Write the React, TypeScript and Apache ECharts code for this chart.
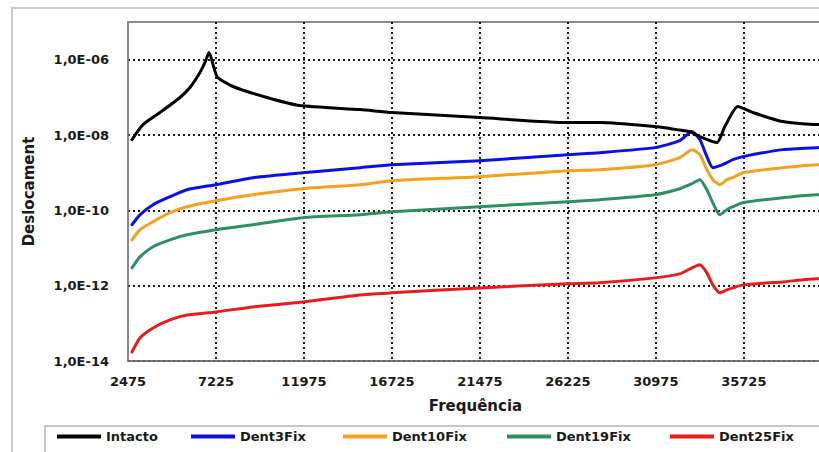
import React, { useEffect, useRef } from "react";
import * as echarts from "echarts";

const seriesNames = ["Intacto", "Dent3Fix", "Dent10Fix", "Dent19Fix", "Dent25Fix"];
const seriesColors = ["#000000", "#0a10e6", "#f5a01e", "#2e8f63", "#e81c1c"];

const xTicks = [2475, 7225, 11975, 16725, 21475, 26225, 30975, 35725];
const yTickExponents = [-14, -12, -10, -8, -6];

const freqIntacto = [2690, 3285, 4200, 5280, 5820, 6360, 6630, 6850, 7280, 8140, 9980, 11760, 15000, 16725, 21475, 26225, 27950, 30920, 32110, 32810, 33350, 34270, 34700, 35400, 36210, 37830, 39670, 40000];
const intacto = [7.55e-9, 1.89e-8, 3.95e-8, 9.9e-8, 1.82e-7, 4.57e-7, 8.43e-7, 1.55e-6, 3.57e-7, 1.94e-7, 9.9e-8, 6.05e-8, 4.74e-8, 3.95e-8, 2.9e-8, 2.14e-8, 2.14e-8, 1.67e-8, 1.39e-8, 1.23e-8, 9.05e-9, 6.28e-9, 1.67e-8, 5.69e-8, 3.95e-8, 2.27e-8, 1.89e-8, 1.89e-8];

const freqDent = [2690, 3120, 3825, 4740, 5660, 7225, 9220, 11920, 15000, 16725, 21475, 26225, 27950, 30920, 32270, 32920, 33350, 33730, 34050, 34430, 34810, 35130, 35675, 37830, 39670, 40000];
const dent3 = [4.14e-11, 7.6e-11, 1.41e-10, 2.3e-10, 3.53e-10, 4.8e-10, 7.36e-10, 1.0e-9, 1.36e-9, 1.63e-9, 2.08e-9, 3.01e-9, 3.4e-9, 4.62e-9, 7.1e-9, 1.23e-8, 7.55e-9, 2.67e-9, 1.36e-9, 1.53e-9, 1.85e-9, 2.22e-9, 2.67e-9, 4.09e-9, 4.62e-9, 4.65e-9];
const dent10 = [1.65e-11, 3.05e-11, 4.98e-11, 8.63e-11, 1.25e-10, 1.8e-10, 2.6e-10, 3.75e-10, 4.8e-10, 6.12e-10, 7.83e-10, 1.13e-9, 1.2e-9, 1.63e-9, 2.51e-9, 4.09e-9, 3.01e-9, 1.2e-9, 6.52e-10, 4.8e-10, 6.52e-10, 7.36e-10, 1.0e-9, 1.36e-9, 1.63e-9, 1.63e-9];
const dent19 = [2.97e-12, 5.83e-12, 1.08e-11, 1.65e-11, 2.24e-11, 3.05e-11, 4.14e-11, 6.35e-11, 7.64e-11, 9.18e-11, 1.25e-10, 1.69e-10, 1.91e-10, 2.6e-10, 3.75e-10, 5.09e-10, 6.52e-10, 3.53e-10, 1.59e-10, 7.64e-11, 1.04e-10, 1.25e-10, 1.59e-10, 2.16e-10, 2.6e-10, 2.6e-10];
const dent25 = [1.73e-14, 4.09e-14, 7.55e-14, 1.23e-13, 1.67e-13, 2.01e-13, 2.73e-13, 3.71e-13, 5.69e-13, 6.44e-13, 8.73e-13, 1.12e-12, 1.19e-12, 1.61e-12, 2.06e-12, 2.97e-12, 3.57e-12, 2.19e-12, 1.05e-12, 6.44e-13, 7.73e-13, 8.73e-13, 1.05e-12, 1.26e-12, 1.52e-12, 1.52e-12];

const legendLefts = [57, 191, 343, 507, 670];

const FONT = "DejaVu Sans";

export default function App() {
  const ref = useRef<HTMLDivElement>(null);
  useEffect(() => {
    if (!ref.current) return;
    const chart = echarts.init(ref.current, null, { renderer: "svg" });
    const pair = (xs: number[], ys: number[]) => xs.map((x, i) => [x, ys[i]]);
    const datasets = [
      pair(freqIntacto, intacto),
      pair(freqDent, dent3),
      pair(freqDent, dent10),
      pair(freqDent, dent19),
      pair(freqDent, dent25),
    ];
    const dotted = { color: "#1a1a1a", type: [2, 3] as number[], width: 2 };
    const option: any = {
      animation: false,
      backgroundColor: "#ffffff",
      grid: {
        left: 128,
        top: 22,
        width: 695,
        height: 339,
        show: true,
        borderColor: "#666",
        borderWidth: 1.5,
        containLabel: false,
        outerBoundsMode: "none",
      },
      graphic: [
        {
          type: "rect",
          shape: { x: 12, y: 8, width: 900, height: 500 },
          style: { fill: "none", stroke: "#c8c8c8", lineWidth: 2 },
          silent: true,
          z: -10,
        },
        {
          type: "rect",
          shape: { x: 45, y: 426, width: 900, height: 60 },
          style: { fill: "none", stroke: "#b4b4b4", lineWidth: 1.5 },
          silent: true,
          z: -10,
        },
      ],
      legend: seriesNames.map((n, i) => ({
        data: [n],
        left: legendLefts[i],
        top: 430,
        padding: 0,
        icon: "rect",
        itemWidth: 44,
        itemHeight: 4,
        textStyle: { fontFamily: FONT, fontWeight: "bold", fontSize: 13, color: "#1a1a1a" },
      })),
      xAxis: {
        type: "value",
        min: 2475,
        max: 40000,
        interval: 4750,
        name: "Frequência",
        nameLocation: "middle",
        nameGap: 37,
        nameTextStyle: { fontFamily: FONT, fontWeight: "bold", fontSize: 15, color: "#1a1a1a" },
        axisLine: { show: true, lineStyle: { color: "#777", width: 1.5 } },
        axisTick: { show: false },
        axisLabel: {
          margin: 14,
          showMaxLabel: false,
          fontFamily: FONT,
          fontWeight: "bold",
          fontSize: 13,
          color: "#1a1a1a",
          formatter: (v: number) => (xTicks.indexOf(Math.round(v)) >= 0 ? String(Math.round(v)) : ""),
        },
        splitLine: { show: true, showMinLine: false, showMaxLine: false, lineStyle: dotted },
      },
      yAxis: {
        type: "log",
        logBase: 100,
        min: 1e-14,
        max: 1e-5,
        splitNumber: 5,
        name: "Deslocament",
        nameLocation: "middle",
        nameGap: 92,
        nameTextStyle: { fontFamily: FONT, fontWeight: "bold", fontSize: 15, color: "#1a1a1a" },
        axisLine: { show: true, lineStyle: { color: "#888", width: 1.5 } },
        axisTick: { show: false },
        axisLabel: {
          margin: 19,
          fontFamily: FONT,
          fontWeight: "bold",
          fontSize: 13,
          color: "#1a1a1a",
          formatter: (v: number) => {
            const l = Math.log10(v);
            const e = Math.round(l);
            if (Math.abs(l - e) > 0.01 || yTickExponents.indexOf(e) < 0) return "";
            return "1,0E-" + String(-e).padStart(2, "0");
          },
        },
        splitLine: { show: true, showMaxLine: false, lineStyle: dotted },
      },
      series: seriesNames.map((n, i) => ({
        name: n,
        type: "line",
        data: datasets[i],
        showSymbol: false,
        symbol: "none",
        smooth: 0.2,
        color: seriesColors[i],
        lineStyle: { width: 3, color: seriesColors[i], join: "round", cap: "round" },
        z: 10 - i,
      })),
    };
    chart.setOption(option);
    return () => chart.dispose();
  }, []);
  return (
    <div style={{ position: "fixed", left: 0, top: 0, width: 819, height: 452, background: "#fff", overflow: "hidden" }}>
      <div ref={ref} style={{ width: 819, height: 452 }} />
    </div>
  );
}
